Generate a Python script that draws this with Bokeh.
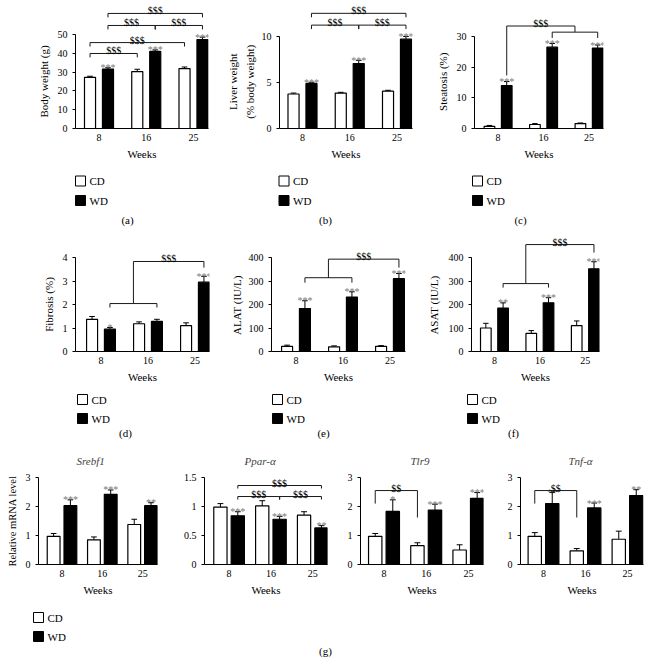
from bokeh.plotting import figure
from bokeh.models import Range1d, FixedTicker, ColumnDataSource, Title, NumeralTickFormatter
from bokeh.layouts import column, row
from bokeh.transform import dodge
from bokeh.embed import file_html
from bokeh.resources import INLINE
from bokeh.core.properties import value

FONT = "Liberation Serif"
STAR_COLOR = "#7a7a7a"

weeks = ["8", "16", "25"]
groups = ["CD", "WD"]

# ---------------- data ----------------
body_cd = [27.2, 30.3, 31.9]
body_cd_err = [0.6, 1.2, 0.8]
body_wd = [31.6, 41.0, 47.3]
body_wd_err = [0.7, 0.8, 1.3]
body_stars = ["***", "***", "***"]

liver_cd = [3.75, 3.85, 4.05]
liver_cd_err = [0.1, 0.08, 0.1]
liver_wd = [4.9, 7.05, 9.7]
liver_wd_err = [0.12, 0.35, 0.3]
liver_stars = ["***", "***", "***"]

steat_cd = [0.7, 1.3, 1.6]
steat_cd_err = [0.3, 0.3, 0.2]
steat_wd = [14.0, 26.5, 26.2]
steat_wd_err = [1.3, 1.2, 1.0]
steat_stars = ["***", "***", "***"]

fib_cd = [1.37, 1.18, 1.10]
fib_cd_err = [0.12, 0.08, 0.12]
fib_wd = [0.95, 1.28, 2.95]
fib_wd_err = [0.07, 0.09, 0.25]
fib_stars = ["*", "", "***"]

alat_cd = [22, 20, 22]
alat_cd_err = [5, 4, 3]
alat_wd = [183, 232, 310]
alat_wd_err = [33, 22, 22]
alat_stars = ["***", "***", "***"]

asat_cd = [100, 77, 110]
asat_cd_err = [20, 12, 20]
asat_wd = [185, 207, 352]
asat_wd_err = [22, 22, 30]
asat_stars = ["**", "***", "***"]

srebf_cd = [0.97, 0.85, 1.38]
srebf_cd_err = [0.1, 0.1, 0.18]
srebf_wd = [2.03, 2.42, 2.03]
srebf_wd_err = [0.2, 0.15, 0.1]
srebf_stars = ["***", "***", "**"]

ppar_cd = [0.99, 1.01, 0.85]
ppar_cd_err = [0.06, 0.09, 0.06]
ppar_wd = [0.84, 0.78, 0.63]
ppar_wd_err = [0.07, 0.05, 0.04]
ppar_stars = ["***", "***", "**"]

tlr9_cd = [0.97, 0.65, 0.50]
tlr9_cd_err = [0.1, 0.1, 0.18]
tlr9_wd = [1.83, 1.88, 2.28]
tlr9_wd_err = [0.4, 0.2, 0.2]
tlr9_stars = ["*", "***", "***"]

tnf_cd = [0.97, 0.47, 0.87]
tnf_cd_err = [0.13, 0.08, 0.28]
tnf_wd = [2.10, 1.95, 2.38]
tnf_wd_err = [0.38, 0.17, 0.2]
tnf_stars = ["**", "***", "**"]

# bar geometry (category units)
OFF1, BW1, CAP1 = 0.19, 0.234, 0.06
OFF3, BW3, CAP3 = 0.208, 0.317, 0.07

# Liberation Serif advance widths (Times-compatible metrics, per 1000 em) for label layout
ADV = {" ": 250, "(": 333, ")": 333, "%": 833, "/": 278, "-": 333,
       "A": 722, "B": 667, "F": 556, "I": 333, "L": 611, "N": 722, "R": 667, "S": 556,
       "T": 611, "U": 722, "a": 444, "b": 500, "d": 500, "e": 444, "g": 500, "h": 500,
       "i": 278, "l": 278, "m": 778, "o": 500, "r": 333, "s": 389, "t": 278, "v": 500,
       "w": 722, "y": 500}


def text_len(s, size):
    return sum(ADV.get(ch, 500) for ch in s) * size / 1000.0


def W(g, off):
    return g + off


def C(g, off):
    return g - off


def make_panel(fig_box, frame, g0, step, ytop_px, cd, cd_err, wd, wd_err, stars,
               yticks, ylabel=(), ylabel_standoff=(6,), brackets=(), off=OFF1, bw=BW1,
               cap=CAP1, title=None, title_offset=0, yfmt=None, ytick_standoff=5,
               ylabel_size=11):
    fx, fy, fw, fh = fig_box
    L, R, T, B = frame
    py = (B - ytop_px) / yticks[-1]
    extra = {}
    if title:
        extra["title"] = Title(text=title, align="left", offset=title_offset,
                               text_font=FONT, text_font_size="11px",
                               text_font_style="italic", standoff=11)
        extra["title_location"] = "above"
    else:
        extra["title_location"] = None
    p = figure(width=fw, height=fh,
               x_range=Range1d((L - g0) / step, (R - g0) / step),
               y_range=Range1d(0, (B - T) / py),
               output_backend="svg", toolbar_location=None,
               min_border_left=int(L - fx), min_border_right=int(fx + fw - R),
               min_border_top=int(T - fy), min_border_bottom=int(fy + fh - B), **extra)
    p.outline_line_color = None
    p.xgrid.visible = False
    p.ygrid.visible = False
    p.background_fill_color = "white"
    p.border_fill_color = "white"

    # axes
    xa = p.xaxis[0]
    xa.ticker = FixedTicker(ticks=[0, 1, 2])
    xa.major_label_overrides = {i: w for i, w in enumerate(weeks)}
    xa.major_tick_out = 0
    xa.major_tick_in = 0
    xa.minor_tick_out = 0
    xa.minor_tick_in = 0
    xa.major_label_standoff = 5
    xa.axis_label = "Weeks"
    xa.axis_label_standoff = 4
    xa.axis_label_text_font = FONT
    xa.axis_label_text_font_size = "11px"
    xa.axis_label_text_font_style = "normal"
    xa.axis_label_text_color = "black"
    ya = p.yaxis[0]
    ya.ticker = FixedTicker(ticks=yticks)
    ya.bounds = (0, yticks[-1])
    ya.major_tick_out = 3
    ya.major_tick_in = 0
    ya.minor_tick_out = 0
    ya.minor_tick_in = 0
    ya.major_label_standoff = int(ytick_standoff)
    if yfmt:
        ya.formatter = yfmt
    for ax in (xa, ya):
        ax.axis_line_color = "black"
        ax.axis_line_width = 1
        ax.major_tick_line_color = "black"
        ax.major_label_text_font = FONT
        ax.major_label_text_font_size = "10px"
        ax.major_label_text_color = "black"
    # y-axis title(s): centred on the drawn axis line (0 .. top tick), innermost line first
    for lab, sto in zip(ylabel, ylabel_standoff):
        off_px = (B - ytop_px) / 2 - text_len(lab, ylabel_size) / 2
        p.add_layout(Title(text=lab, align="left", offset=off_px, standoff=int(sto),
                           text_font=FONT, text_font_size=f"{ylabel_size}px",
                           text_font_style="normal", text_color="black"), "left")

    src = ColumnDataSource(dict(
        x=[0, 1, 2], cd=cd, wd=wd,
        cd_up=[v + e for v, e in zip(cd, cd_err)],
        wd_up=[v + e for v, e in zip(wd, wd_err)],
        stars=stars))
    xr = p.x_range
    for key, sgn, fill in (("cd", -1, "white"), ("wd", 1, "black")):
        xc = dodge("x", sgn * off, range=xr)
        p.segment(x0=xc, y0=key, x1=xc, y1=key + "_up", line_color="black",
                  line_width=1, source=src)
        p.segment(x0=dodge("x", sgn * off - cap, range=xr), y0=key + "_up",
                  x1=dodge("x", sgn * off + cap, range=xr), y1=key + "_up",
                  line_color="black", line_width=1, source=src)
        p.vbar(x=xc, top=key, width=bw, bottom=0, fill_color=fill,
               line_color="black", line_width=1.2, source=src)
    p.text(x=dodge("x", off, range=xr), y="wd_up", text="stars", source=src,
           text_align="center", text_baseline="alphabetic", y_offset=0,
           text_color=STAR_COLOR, text_font=value(FONT), text_font_size=value("10px"))

    # significance brackets
    if brackets:
        sx0, sy0, sx1, sy1, lx, ly, lt = [], [], [], [], [], [], []
        for (x0, x1, y, d0, d1, lab) in brackets:
            sx0 += [x0, x0, x1]
            sx1 += [x1, x0, x1]
            sy0 += [y, y, y]
            sy1 += [y, d0, d1]
            if lab:
                lx.append((x0 + x1) / 2)
                ly.append(y)
                lt.append(lab)
        p.segment(x0=sx0, y0=sy0, x1=sx1, y1=sy1, line_color="#1a1a1a", line_width=1)
        if lt:
            p.text(x=lx, y=ly, text=lt, text_align="center", text_baseline="alphabetic",
                   y_offset=-2.5, text_color="black", text_font=value(FONT),
                   text_font_size=value("10px"))
    return p


def legend_fig(x0, y0, w, h, items, captions):
    p = figure(width=w, height=h, x_range=Range1d(x0, x0 + w), y_range=Range1d(y0 + h, y0),
               output_backend="svg", toolbar_location=None, min_border=0,
               title_location=None, x_axis_location=None, y_axis_location=None)
    p.outline_line_color = None
    p.xgrid.visible = False
    p.ygrid.visible = False
    for (sx, ya, yb) in items:
        p.scatter([sx, sx], [ya, yb], marker="square", size=10,
                  fill_color=["white", "black"], line_color="black", line_width=1)
        p.text([sx + 9, sx + 9], [ya, yb], text=groups, text_baseline="middle",
               text_align="left", text_font=value(FONT), text_font_size=value("11px"),
               text_color="black")
    p.text([c[0] for c in captions], [c[1] for c in captions], text=[c[2] for c in captions],
           text_align="center", text_baseline="middle", text_font=value(FONT),
           text_font_size=value("11px"), text_color="black")
    return p


# ---------------- row 1 ----------------
pa = make_panel((0, 0, 215, 165), (75, 208, 0, 128), 98.5, 47.25, 34,
                body_cd, body_cd_err, body_wd, body_wd_err, body_stars,
                [0, 10, 20, 30, 40, 50], ["Body weight (g)"], [10],
                brackets=[(W(0, OFF1), W(2, OFF1), 61.2, 59.1, 59.1, "$$$"),
                          (W(0, OFF1), W(1, OFF1), 54.8, 52.7, 52.7, "$$$"),
                          (W(1, OFF1), W(2, OFF1), 54.8, 52.7, 52.7, "$$$"),
                          (C(0, OFF1), C(2, OFF1), 45.7, 43.6, 43.6, "$$$"),
                          (C(0, OFF1), C(1, OFF1), 39.9, 37.8, 37.8, "$$$")])

pb = make_panel((215, 0, 215, 165), (279, 412, 0, 130), 302, 47.25, 36.5,
                liver_cd, liver_cd_err, liver_wd, liver_wd_err, liver_stars,
                [0, 5, 10], ["(% body weight)", "Liver weight"], [6, 0],
                brackets=[(W(0, OFF1), W(2, OFF1), 12.51, 12.08, 12.08, "$$$"),
                          (W(0, OFF1), W(1, OFF1), 11.23, 10.8, 10.8, "$$$"),
                          (W(1, OFF1), W(2, OFF1), 11.23, 10.8, 10.8, "$$$")])

pc = make_panel((430, 0, 220, 165), (469, 603, 0, 130), 493.5, 47.25, 36.5,
                steat_cd, steat_cd_err, steat_wd, steat_wd_err, steat_stars,
                [0, 10, 20, 30], ["Steatosis (%)"], [9],
                brackets=[(W(0, OFF1), (W(1, OFF1) + W(2, OFF1)) / 2, 33.4, 17.3, 31.4, "$$$"),
                          (W(1, OFF1), W(2, OFF1), 31.4, 29.5, 29.5, "")])

legA = legend_fig(0, 165, 650, 63,
                  [(80, 180.5, 200), (283.5, 180.5, 200), (477, 180.5, 200)],
                  [(127, 219, "(a)"), (325, 219, "(b)"), (520, 219, "(c)")])

# ---------------- row 2 ----------------
pd_ = make_panel((0, 228, 215, 159), (75, 209, 228, 351), 100.5, 47, 257,
                 fib_cd, fib_cd_err, fib_wd, fib_wd_err, fib_stars,
                 [0, 1, 2, 3, 4], ["Fibrosis (%)"], [9],
                 brackets=[((W(0, OFF1) + W(1, OFF1)) / 2, W(2, OFF1), 3.83, 2.04, 3.57, "$$$"),
                           (W(0, OFF1), W(1, OFF1), 2.04, 1.87, 1.87, "")])

pe = make_panel((215, 228, 205, 159), (271, 405, 228, 351), 295.5, 47, 257,
                alat_cd, alat_cd_err, alat_wd, alat_wd_err, alat_stars,
                [0, 100, 200, 300, 400], ["ALAT (IU/L)"], [6],
                brackets=[((W(0, OFF1) + W(1, OFF1)) / 2, W(2, OFF1), 393, 314, 357, "$$$"),
                          (W(0, OFF1), W(1, OFF1), 314, 293, 293, "")])

pf = make_panel((420, 228, 230, 159), (468, 599, 228, 351), 491.5, 46.5, 257,
                asat_cd, asat_cd_err, asat_wd, asat_wd_err, asat_stars,
                [0, 100, 200, 300, 400], ["ASAT (IU/L)"], [11],
                brackets=[((W(0, OFF1) + W(1, OFF1)) / 2, W(2, OFF1), 455, 289, 421, "$$$"),
                          (W(0, OFF1), W(1, OFF1), 289, 272, 272, "")])

legD = legend_fig(0, 387, 650, 56,
                  [(82, 399, 418), (277, 399, 418), (472, 399, 418)],
                  [(125, 432, "(d)"), (323, 432, "(e)"), (513, 432, "(f)")])

# ---------------- row 3 ----------------
g1 = make_panel((0, 443, 180, 157), (33, 157, 472, 564), 57.5, 42, 477,
                srebf_cd, srebf_cd_err, srebf_wd, srebf_wd_err, srebf_stars,
                [0, 1, 2, 3], ["Relative mRNA level"], [9], off=OFF3, bw=BW3, cap=CAP3,
                title="Srebf1", title_offset=38, ylabel_size=10.5)

g2 = make_panel((180, 443, 160, 157), (202, 327, 472, 564), 227, 42.5, 477,
                ppar_cd, ppar_cd_err, ppar_wd, ppar_wd_err, ppar_stars,
                [0, 0.5, 1, 1.5], off=OFF3, bw=BW3, cap=CAP3,
                title="Ppar-α", title_offset=40, yfmt=NumeralTickFormatter(format="0.[0]"),
                brackets=[(W(0, OFF3), W(2, OFF3), 1.362, 1.31, 1.31, "$$$"),
                          (W(0, OFF3), W(1, OFF3), 1.172, 1.12, 1.12, "$$$"),
                          (W(1, OFF3), W(2, OFF3), 1.172, 1.12, 1.12, "$$$")])

g3 = make_panel((340, 443, 160, 157), (360, 483, 472, 564), 383.5, 42.2, 477,
                tlr9_cd, tlr9_cd_err, tlr9_wd, tlr9_wd_err, tlr9_stars,
                [0, 1, 2, 3], off=OFF3, bw=BW3, cap=CAP3, title="Tlr9",
                title_offset=50,
                brackets=[(C(0, OFF3), C(1, OFF3), 2.55, 2.10, 1.62, "$$")])

g4 = make_panel((500, 443, 150, 157), (520, 643, 472, 564), 543, 42, 477,
                tnf_cd, tnf_cd_err, tnf_wd, tnf_wd_err, tnf_stars,
                [0, 1, 2, 3], off=OFF3, bw=BW3, cap=CAP3, title="Tnf-α",
                title_offset=48,
                brackets=[(C(0, OFF3), C(1, OFF3), 2.55, 2.10, 1.62, "$$")])

legG = legend_fig(0, 600, 650, 59, [(38, 617, 636)], [(325, 650, "(g)")])

layout = column(row(pa, pb, pc), legA, row(pd_, pe, pf), legD, row(g1, g2, g3, g4), legG)

open("out.html", "w").write(file_html(layout, INLINE))
